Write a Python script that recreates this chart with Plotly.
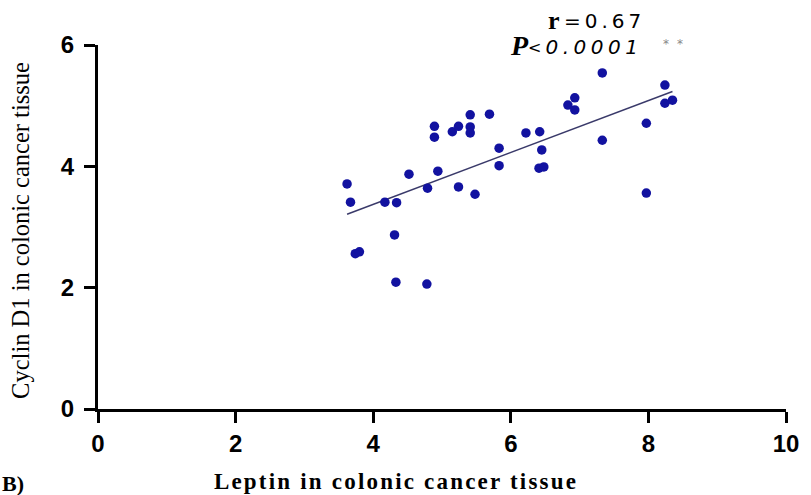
import numpy as np
import plotly.graph_objects as go

# Data
leptin = [3.62, 3.67, 3.74, 3.80, 4.17, 4.34, 4.31, 4.33, 4.52, 4.78,
          4.79, 4.94, 4.89, 4.89, 5.15, 5.24, 5.24, 5.41, 5.41, 5.41,
          5.48, 5.69, 5.83, 5.83, 6.22, 6.42, 6.45, 6.41, 6.48, 6.83,
          6.93, 6.93, 7.33, 7.33, 7.97, 7.97, 8.24, 8.24, 8.35]
cyclin = [3.71, 3.41, 2.56, 2.59, 3.41, 3.40, 2.87, 2.09, 3.87, 2.06,
          3.64, 3.92, 4.66, 4.48, 4.57, 4.66, 3.66, 4.85, 4.65, 4.55,
          3.54, 4.86, 4.30, 4.01, 4.55, 4.57, 4.27, 3.97, 3.99, 5.01,
          5.13, 4.93, 5.54, 4.43, 4.71, 3.56, 5.34, 5.04, 5.09]
x_ticks = [0, 2, 4, 6, 8, 10]
y_ticks = [0, 2, 4, 6]

slope, intercept = np.polyfit(leptin, cyclin, 1)
fit_x = np.array([min(leptin), max(leptin)])
fit_y = slope * fit_x + intercept

fig = go.Figure()
fig.add_trace(go.Scatter(x=fit_x, y=fit_y, mode="lines",
                         line=dict(color="#3a3a6a", width=1.5),
                         hoverinfo="skip", showlegend=False))
fig.add_trace(go.Scatter(x=leptin, y=cyclin, mode="markers",
                         marker=dict(color="#1212a0", size=9.5,
                                     line=dict(width=0)),
                         showlegend=False))

axis_common = dict(showgrid=False, zeroline=False, showline=True,
                   linecolor="black", linewidth=3, ticks="outside",
                   tickwidth=3, ticklen=11, tickcolor="black",
                   tickfont=dict(family="Liberation Sans", size=24,
                                 color="black", weight="bold"))
fig.update_xaxes(range=[0, 10], tickvals=x_ticks, **axis_common)
fig.update_yaxes(range=[0, 6], tickvals=y_ticks, ticklabelstandoff=5,
                 **axis_common)

serif = "Liberation Serif"
sans = "DejaVu Sans"


def ann(text, x, y, family, size, color="black", angle=0, xanchor="center"):
    return dict(text=text, textangle=angle, xref="paper", yref="paper",
                x=x, y=y, xanchor=xanchor, yanchor="middle",
                showarrow=False,
                font=dict(family=family, size=size, color=color))


fig.update_layout(
    width=811, height=495,
    margin=dict(l=98, r=20, t=45, b=86),
    plot_bgcolor="white", paper_bgcolor="white",
    annotations=[
        ann("Cyclin D1 in colonic cancer tissue", -0.113, 0.49, serif, 24.5,
            angle=-90),
        ann("<b>Leptin in colonic cancer tissue</b>", 0.433, -0.2, serif, 23),
        ann("<b>B)</b>", -0.1429, -0.206, serif, 22, xanchor="left"),
        ann("<b>r</b>", 0.663, 1.066, serif, 26),
        ann("=0.67", 0.736, 1.066, sans, 20),
        ann("<b><i>P</i></b>", 0.612, 1.0, serif, 28),
        ann("&lt;", 0.635, 0.994, sans, 16),
        ann("<i>0.0001</i>", 0.7215, 0.994, sans, 20),
        ann("**", 0.842, 1.003, sans, 12, color="#888888"),
    ],
)

post = """
document.body.style.margin = '0';
document.body.style.overflow = 'hidden';
var spacing = {'Leptin in colonic cancer tissue': '2.2px', '=0.67': '4px',
               '0.0001': '4.5px', '**': '8px'};
document.querySelectorAll('.annotation-text').forEach(function(t) {
  var s = spacing[t.textContent];
  if (s) { t.style.letterSpacing = s; }
});
"""
fig.write_html("out.html", post_script=post,
               config={"displayModeBar": False})
